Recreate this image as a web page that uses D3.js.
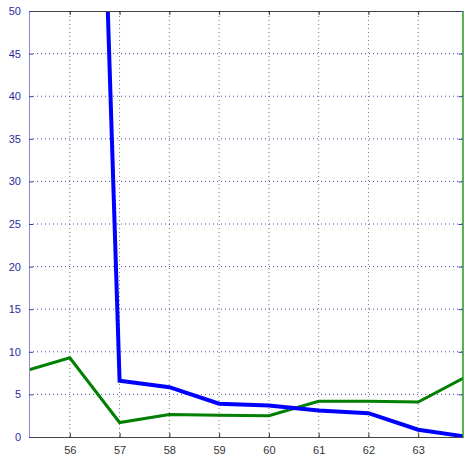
<!DOCTYPE html>
<html>
<head>
<meta charset="utf-8">
<script src="https://cdn.jsdelivr.net/npm/d3@7"></script>
<style>
  body { margin: 0; background: #fff; }
  svg text { font-family: "Liberation Sans", Arial, sans-serif; font-size: 11px; }
</style>
</head>
<body>
<div id="chart"></div>
<script>
// data
var xTicks = [56, 57, 58, 59, 60, 61, 62, 63];
var yTicks = [0, 5, 10, 15, 20, 25, 30, 35, 40, 45, 50];
var blueX = [56, 57, 58, 59, 60, 61, 62, 63, 63.9];
var blueY = [190, 6.6, 5.85, 3.9, 3.7, 3.1, 2.8, 0.85, 0.1];
var greenX = [55.18, 56, 57, 58, 59, 60, 61, 62, 63, 63.9];
var greenY = [7.9, 9.3, 1.7, 2.65, 2.55, 2.5, 4.2, 4.2, 4.1, 6.9];

var width = 465, height = 455;
var margin = {top: 11, right: 2, bottom: 18, left: 29};

var svg = d3.select('#chart').append('svg')
    .attr('width', width)
    .attr('height', height);

var x = d3.scaleLinear().domain([55.18, 63.9]).range([margin.left, width - margin.right]);
var y = d3.scaleLinear().domain([0, 50]).range([height - margin.bottom, margin.top]);

// clip for the plot area
svg.append('clipPath').attr('id', 'clip')
  .append('rect')
    .attr('x', x.range()[0])
    .attr('y', y.range()[1])
    .attr('width', x.range()[1] - x.range()[0])
    .attr('height', y.range()[0] - y.range()[1]);

// grid
var grid = svg.append('g').attr('class', 'grid');
grid.selectAll('line.vg').data(xTicks).enter().append('line')
    .attr('x1', d => x(d)).attr('x2', d => x(d))
    .attr('y1', y(0)).attr('y2', y(50))
    .attr('stroke', '#777')
    .attr('stroke-width', 1)
    .attr('stroke-dasharray', '1,3');
grid.selectAll('line.hg').data(yTicks.slice(1, -1)).enter().append('line')
    .attr('y1', d => y(d)).attr('y2', d => y(d))
    .attr('x1', x.range()[0]).attr('x2', x.range()[1])
    .attr('stroke', '#4a4ab0')
    .attr('stroke-width', 1)
    .attr('stroke-dasharray', '1,3');

// lines
var line = d3.line().x(d => x(d[0])).y(d => y(d[1]));
var plot = svg.append('g').attr('clip-path', 'url(#clip)');
plot.append('path')
    .datum(d3.zip(greenX, greenY))
    .attr('d', line)
    .attr('fill', 'none')
    .attr('stroke', '#007f00')
    .attr('stroke-width', 3);
plot.append('path')
    .datum(d3.zip(blueX, blueY))
    .attr('d', line)
    .attr('fill', 'none')
    .attr('stroke', '#0000ff')
    .attr('stroke-width', 4);

// axes (matlab style, ticks inward)
var xAxis = svg.append('g')
    .attr('transform', 'translate(0,' + y(0) + ')')
    .call(d3.axisBottom(x).tickValues(xTicks).tickSize(-4).tickPadding(9).tickSizeOuter(0));
xAxis.select('.domain').attr('stroke', '#444');
xAxis.selectAll('.tick line').attr('stroke', '#333');
xAxis.selectAll('text').attr('fill', '#333').style('font-size', '11px');

var xTop = svg.append('g')
    .attr('transform', 'translate(0,' + y(50) + ')')
    .call(d3.axisTop(x).tickValues(xTicks).tickSize(-4).tickFormat('').tickSizeOuter(0));
xTop.select('.domain').attr('stroke', '#444');
xTop.selectAll('.tick line').attr('stroke', '#333');

var yAxis = svg.append('g')
    .attr('transform', 'translate(' + x.range()[0] + ',0)')
    .call(d3.axisLeft(y).tickValues(yTicks).tickSize(-4).tickPadding(8).tickSizeOuter(0));
yAxis.select('.domain').attr('stroke', '#8a84e0');
yAxis.selectAll('.tick line').attr('stroke', '#3a3aa0');
yAxis.selectAll('text').attr('fill', '#2c2ca0').style('font-size', '11px');

var yRight = svg.append('g')
    .attr('transform', 'translate(' + (x.range()[1] - 0.5) + ',0)')
    .call(d3.axisRight(y).tickValues(yTicks).tickSize(-4).tickFormat('').tickSizeOuter(0));
yRight.select('.domain').attr('stroke', '#1f9a1f').attr('stroke-width', 1.5);
yRight.selectAll('.tick line').attr('stroke', '#3a3aa0');
</script>
</body>
</html>
